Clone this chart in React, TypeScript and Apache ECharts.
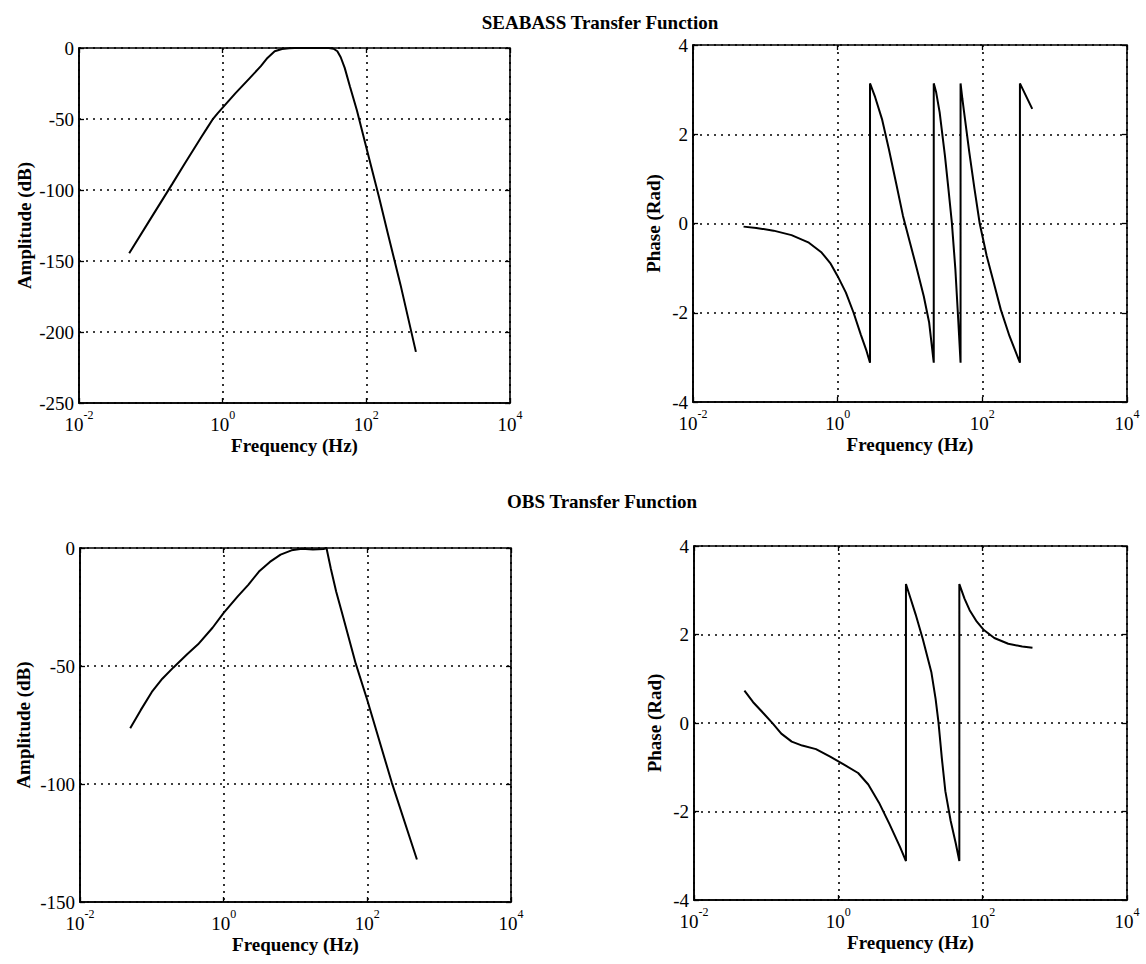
import React, { useEffect, useRef } from "react";
import * as echarts from "echarts";

// SEABASS amplitude response (Hz, dB)
const seabassAmpFreq = [0.05, 0.1, 0.2, 0.3, 0.5, 0.6, 0.72, 0.85, 1.0, 1.5, 2.4, 3.4, 4.2, 5.3, 6.7, 8.4, 10, 30, 35, 39.5, 44, 50, 59, 74, 100, 150, 200, 300, 490];
const seabassAmpDb = [-144.5, -120, -95.5, -81, -63, -56.8, -50.5, -46, -42, -32, -21, -12.8, -7, -2.3, -0.7, -0.2, 0, 0, -0.5, -2.3, -6.5, -14, -27, -44, -70, -105, -131, -167, -214];

// SEABASS phase response (Hz, rad); repeated frequencies mark the ±π wraps
const seabassPhaseFreq = [
  0.05, 0.075, 0.13, 0.23, 0.4, 0.6, 0.8, 1.0, 1.3, 1.66, 2.1, 2.5, 2.8,
  2.8, 3.3, 4.1, 5.1, 6.4, 8.0, 10, 12.5, 15.5, 18.4, 21.3,
  21.3, 23, 25.7, 30.4, 34, 37.9, 42.4, 46.4, 50,
  50, 53, 56, 66, 78, 92, 115, 144, 180, 237, 331,
  331, 490,
];
const seabassPhaseRad = [
  -0.07, -0.1, -0.16, -0.26, -0.43, -0.65, -0.9, -1.18, -1.55, -2.0, -2.5, -2.85, -3.12,
  3.14, 2.83, 2.34, 1.67, 0.92, 0.17, -0.43, -1.03, -1.63, -2.22, -3.12,
  3.14, 2.94, 2.49, 1.52, 0.77, 0.02, -1.03, -2.15, -3.12,
  3.14, 2.79, 2.49, 1.6, 0.77, 0, -0.73, -1.33, -1.93, -2.52, -3.12,
  3.14, 2.57,
];

// OBS amplitude response (Hz, dB)
const obsAmpFreq = [0.05, 0.07, 0.1, 0.14, 0.2, 0.31, 0.44, 0.7, 1.0, 1.57, 2.2, 3.1, 4.4, 6.2, 8.8, 12.3, 17.5, 24.6, 27, 31, 36.8, 43.8, 69, 100, 219, 490];
const obsAmpDb = [-76.4, -68.7, -61, -55.4, -50.6, -45, -40.8, -33.8, -27.5, -20.5, -15.6, -10, -5.9, -2.8, -1, -0.3, -0.6, -0.4, 0, -8.7, -18.4, -26.8, -49, -64.5, -99.4, -132];

// OBS phase response (Hz, rad)
const obsPhaseFreq = [
  0.05, 0.066, 0.093, 0.123, 0.162, 0.226, 0.316, 0.49, 0.77, 1.2, 1.88, 2.6, 3.66, 5.1, 7.15, 8.65,
  8.65, 10, 11.8, 14.8, 19.5, 22.3, 24.4, 27.2, 30.4, 36, 42.5, 47.5,
  47.5, 56, 66, 83, 104, 145, 226, 353, 490,
];
const obsPhaseRad = [
  0.73, 0.47, 0.21, -0.01, -0.24, -0.42, -0.51, -0.59, -0.76, -0.94, -1.13, -1.39, -1.8, -2.28, -2.8, -3.12,
  3.14, 2.82, 2.45, 1.9, 1.14, 0.54, 0.02, -0.8, -1.54, -2.21, -2.73, -3.12,
  3.14, 2.81, 2.55, 2.29, 2.1, 1.92, 1.79, 1.73, 1.7,
];

// Axis ranges and titles
const freqMin = 0.01;
const freqMax = 10000;
const ampRangeSeabass = [-250, 0];
const ampRangeObs = [-150, 0];
const phaseRange = [-4, 4];
const panelTitles = ["SEABASS Transfer Function", "OBS Transfer Function"];

const FONT = "'Liberation Serif', 'Times New Roman', serif";

const pairs = (xs: number[], ys: number[]) => xs.map((x, i) => [x, ys[i]]);

const tickStyle = { show: true, inside: true, length: 5, lineStyle: { color: "#000", width: 1.3 } };
const gridLineStyle = { show: true, lineStyle: { color: "#000", width: 1.6, type: [2, 5] } };

const freqAxis = (gridIndex: number) => ({
  type: "log",
  logBase: 10,
  gridIndex,
  min: freqMin,
  max: freqMax,
  interval: 2,
  name: "Frequency (Hz)",
  nameLocation: "middle",
  nameGap: 33,
  nameTextStyle: { fontFamily: FONT, fontSize: 19, fontWeight: "bold", color: "#000" },
  axisLine: { show: true, onZero: false, lineStyle: { color: "#000", width: 1.6 } },
  axisTick: tickStyle,
  minorTick: { show: false },
  splitLine: gridLineStyle,
  axisLabel: {
    margin: 6,
    formatter: (v: number) => `{b|10}{s|${Math.round(Math.log10(v))}}`,
    rich: {
      b: { fontFamily: FONT, fontSize: 19, color: "#000", lineHeight: 25, verticalAlign: "bottom" },
      s: { fontFamily: FONT, fontSize: 12, color: "#000", verticalAlign: "top", lineHeight: 12 },
    },
  },
});

// Tick marks along the top edge of each box
const freqTopAxis = (gridIndex: number) => ({
  type: "log",
  logBase: 10,
  gridIndex,
  position: "top",
  min: freqMin,
  max: freqMax,
  interval: 2,
  axisLine: { show: false, onZero: false },
  axisTick: tickStyle,
  minorTick: { show: false },
  splitLine: { show: false },
  axisLabel: { show: false },
});

const valueAxis = (gridIndex: number, range: number[], interval: number, name: string, nameGap: number) => ({
  type: "value",
  gridIndex,
  min: range[0],
  max: range[1],
  interval,
  name,
  nameLocation: "middle",
  nameRotate: 90,
  nameGap,
  nameTextStyle: { fontFamily: FONT, fontSize: 19, fontWeight: "bold", color: "#000" },
  axisLine: { show: true, onZero: false, lineStyle: { color: "#000", width: 1.6 } },
  axisTick: tickStyle,
  splitLine: gridLineStyle,
  axisLabel: { margin: 5, fontFamily: FONT, fontSize: 19, color: "#000" },
});

// Tick marks along the right edge of each box
const valueRightAxis = (gridIndex: number, range: number[], interval: number) => ({
  type: "value",
  gridIndex,
  position: "right",
  min: range[0],
  max: range[1],
  interval,
  axisLine: { show: false, onZero: false },
  axisTick: tickStyle,
  splitLine: { show: false },
  axisLabel: { show: false },
});

const curve = (idx: number, data: number[][]) => ({
  type: "line",
  xAxisIndex: idx,
  yAxisIndex: idx,
  data,
  showSymbol: false,
  symbol: "none",
  smooth: false,
  clip: true,
  lineStyle: { color: "#000", width: 2 },
});

const titleStyle = { fontFamily: FONT, fontSize: 19, fontWeight: "bold", color: "#000" };

export default function App() {
  const ref = useRef<HTMLDivElement>(null);

  useEffect(() => {
    if (!ref.current) return;
    const chart = echarts.init(ref.current, undefined, { renderer: "svg" });
    const gridStyle = { show: true, borderColor: "#000", borderWidth: 1.6, backgroundColor: "#fff" };
    chart.setOption({
      animation: false,
      backgroundColor: "#fff",
      title: [
        { text: panelTitles[0], left: 595, top: 8, textAlign: "center", textStyle: titleStyle },
        { text: panelTitles[1], left: 597, top: 487, textAlign: "center", textStyle: titleStyle },
      ],
      grid: [
        { left: 79, top: 48, width: 431, height: 355, ...gridStyle },
        { left: 693, top: 45, width: 434, height: 357, ...gridStyle },
        { left: 80, top: 548, width: 431, height: 354, ...gridStyle },
        { left: 694, top: 546, width: 433, height: 354, ...gridStyle },
      ],
      xAxis: [
        freqAxis(0), freqAxis(1), freqAxis(2), freqAxis(3),
        freqTopAxis(0), freqTopAxis(1), freqTopAxis(2), freqTopAxis(3),
      ],
      yAxis: [
        valueAxis(0, ampRangeSeabass, 50, "Amplitude (dB)", 45),
        valueAxis(1, phaseRange, 2, "Phase (Rad)", 30),
        valueAxis(2, ampRangeObs, 50, "Amplitude (dB)", 47),
        valueAxis(3, phaseRange, 2, "Phase (Rad)", 30),
        valueRightAxis(0, ampRangeSeabass, 50),
        valueRightAxis(1, phaseRange, 2),
        valueRightAxis(2, ampRangeObs, 50),
        valueRightAxis(3, phaseRange, 2),
      ],
      series: [
        curve(0, pairs(seabassAmpFreq, seabassAmpDb)),
        curve(1, pairs(seabassPhaseFreq, seabassPhaseRad)),
        curve(2, pairs(obsAmpFreq, obsAmpDb)),
        curve(3, pairs(obsPhaseFreq, obsPhaseRad)),
      ],
    });
    return () => chart.dispose();
  }, []);

  return (
    <div
      ref={ref}
      style={{ position: "absolute", left: 0, top: 0, width: 1146, height: 964, background: "#fff" }}
    />
  );
}
